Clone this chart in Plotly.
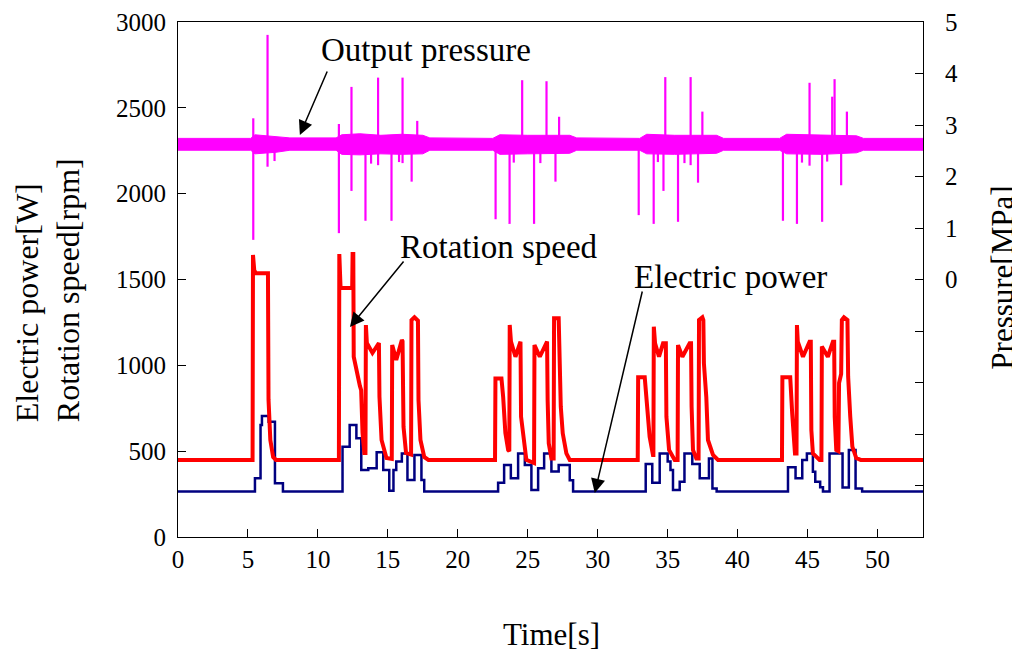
import plotly.graph_objects as go

# ---------------- data ----------------
# Rotation speed [rpm]
speed_t = [0, 5.33, 5.36, 5.45, 5.55, 6.43, 6.47, 6.6, 6.8, 7.0,
           11.50, 11.53, 11.62, 12.45, 12.48, 12.53, 12.56, 12.78, 13.0, 13.09, 13.19, 13.32, 13.40,
           13.43, 13.5, 13.9, 14.3, 14.36, 14.40, 14.55, 14.9, 15.28,
           15.31, 15.6, 16.0, 16.05, 16.08, 16.12, 16.3, 16.66,
           16.69, 16.9, 17.15, 17.19, 17.33, 17.6, 17.9,
           22.66, 22.69, 23.12, 23.24, 23.4, 23.6, 23.68,
           23.71, 23.8, 24.12, 24.43, 24.48, 24.52, 24.74, 24.9, 25.45,
           25.48, 25.86, 26.33, 26.38, 26.42, 26.5, 26.69, 26.85,
           26.88, 27.21, 27.36, 27.5, 27.76, 28.0,
           32.86, 32.89, 33.36, 33.52, 33.71, 33.95, 33.98,
           34.01, 34.1, 34.38, 34.67, 34.87, 34.91, 35.1, 35.5, 35.71,
           35.74, 36.05, 36.57, 36.67, 36.71, 36.81, 37.05, 37.21,
           37.24, 37.48, 37.55, 37.59, 37.76, 37.88, 38.24, 38.6,
           43.17, 43.20, 43.76, 43.9, 44.0, 44.1, 44.21,
           44.24, 44.3, 44.67, 45.14, 45.23, 45.27, 45.38, 45.86, 45.99,
           46.02, 46.45, 46.81, 46.90, 46.94, 47.05, 47.2,
           47.25, 47.4, 47.45, 47.6, 47.85, 47.9, 48.05, 48.2, 48.48, 48.8, 53.3]
speed_v = [449, 449, 1643, 1555, 1537, 1537, 800, 565, 466, 449,
           449, 1648, 1450, 1450, 1648, 1648, 1050, 955, 880, 856, 606, 489, 489,
           1235, 1130, 1072, 1130, 1130, 817, 565, 460, 455,
           1118, 1031, 1147, 1140, 915, 641, 489, 480,
           1264, 1280, 1260, 798, 565, 466, 449,
           449, 924, 924, 817, 606, 507, 500,
           1235, 1138, 1050, 1138, 1138, 701, 526, 449, 431,
           1118, 1050, 1138, 1138, 798, 546, 458, 458,
           1274, 1274, 759, 604, 487, 449,
           449, 930, 930, 798, 584, 478, 478,
           1225, 1128, 1050, 1128, 1128, 701, 507, 449, 449,
           1118, 1050, 1128, 1128, 759, 507, 458, 458,
           1264, 1280, 1264, 1012, 817, 565, 478, 449,
           449, 930, 930, 720, 584, 487, 487,
           1235, 1138, 1050, 1138, 1138, 623, 487, 449, 449,
           1109, 1050, 1138, 1138, 701, 507, 500,
           897, 950, 1264, 1280, 1264, 934, 701, 526, 460, 449, 449]

# Electric power [W] (step signal: value holds from each time onward)
power_t = [0, 5.5, 5.9, 6.0, 6.48, 6.93, 7.5,
           11.76, 12.27, 12.75, 13.1, 13.6, 14.2, 14.67, 15.1, 15.4, 15.6, 16.0, 16.4, 16.9, 17.4, 17.6,
           22.88, 23.31, 23.79, 24.31, 24.79, 25.26, 25.74, 26.17, 26.69, 27.21, 28.0, 28.24,
           33.43, 33.9, 34.43, 35.0, 35.2, 35.38, 35.86, 36.2, 36.76, 37.29, 37.95, 38.2, 38.5,
           43.6, 44.14, 44.62, 44.95, 45.38, 45.55, 45.9, 46.1, 46.57, 47.5, 47.95, 48.43, 48.9, 53.3]
power_v = [265, 342, 652, 705, 672, 313, 265,
           526, 652, 575, 390, 400, 493, 390, 270, 390, 440, 487, 332, 478, 332, 265,
           316, 419, 342, 487, 419, 274, 400, 487, 381, 419, 330, 265,
           425, 316, 487, 440, 390, 274, 322, 487, 425, 342, 458, 283, 265,
           406, 342, 449, 487, 380, 322, 290, 265, 487, 289, 507, 283, 265, 265]

# Output pressure [MPa]: noise band envelope
pres_t = [0, 5.2, 5.5, 7.0, 8.0, 11.3, 11.7, 13.0, 14.5, 16.0, 17.5, 18.0, 22.5, 23.0, 25.0,
          28.0, 28.5, 33.0, 33.5, 35.5, 38.5, 39.0, 43.0, 43.5, 46.0, 48.5, 49.0, 53.3]
pres_hi = [2.74, 2.74, 2.81, 2.78, 2.75, 2.75, 2.81, 2.83, 2.80, 2.82, 2.80, 2.75, 2.74, 2.81, 2.80,
           2.80, 2.75, 2.74, 2.82, 2.80, 2.80, 2.74, 2.74, 2.82, 2.80, 2.79, 2.74, 2.74]
pres_lo = [2.51, 2.51, 2.44, 2.47, 2.51, 2.51, 2.43, 2.42, 2.44, 2.43, 2.44, 2.51, 2.51, 2.43, 2.44,
           2.45, 2.51, 2.51, 2.44, 2.43, 2.45, 2.51, 2.51, 2.44, 2.43, 2.46, 2.51, 2.51]
pres_base = 2.62
# Output pressure spikes (time, extreme value)
spike_t = [5.38, 5.38, 6.40, 6.40, 11.50, 11.50, 12.40, 12.40, 13.40, 14.30, 14.30, 15.26,
           16.05, 16.05, 16.70, 17.10, 22.70, 23.70, 24.60, 25.45, 26.34, 26.98, 27.24,
           32.93, 34.00, 34.70, 34.83, 35.74, 36.64, 36.64, 37.17, 37.48,
           43.24, 44.24, 45.14, 45.14, 46.04, 46.76, 46.93, 47.40, 47.81,
           6.9, 13.8, 15.8, 24.0, 25.9, 34.3, 36.2, 44.6, 46.4]
spike_p = [3.13, 0.77, 4.75, 2.19, 3.02, 0.90, 3.74, 1.72, 1.14, 3.92, 2.22, 1.14,
           3.92, 2.26, 1.90, 3.08, 1.17, 1.08, 3.87, 1.08, 3.85, 1.90, 3.16,
           1.25, 1.08, 1.72, 3.93, 1.12, 3.93, 2.22, 1.88, 3.26,
           1.14, 1.08, 3.82, 2.21, 1.12, 3.55, 3.89, 1.83, 3.26,
           2.30, 2.25, 2.28, 2.27, 2.26, 2.28, 2.26, 2.27, 2.29]

x_ticks = [0, 5, 10, 15, 20, 25, 30, 35, 40, 45, 50]
left_ticks = [0, 500, 1000, 1500, 2000, 2500, 3000]
right_tickvals = [-4, -3, -2, -1, 0, 1, 2, 3, 4, 5]
right_ticktext = ["", "", "", "", "0", "1", "2", "3", "4", "5"]

# ---------------- figure ----------------
FONT = "Liberation Serif, Times New Roman, serif"
MAGENTA = "#FF00FF"
RED = "#FF0000"
NAVY = "#000080"

fig = go.Figure()

# spikes as vertical segments from the base level
sx, sy = [], []
for t, p in zip(spike_t, spike_p):
    sx += [t, t, None]
    sy += [pres_base, p, None]

fig.add_trace(go.Scatter(x=pres_t, y=pres_hi, yaxis="y2", mode="lines",
                         line=dict(color=MAGENTA, width=1), showlegend=False, hoverinfo="skip"))
fig.add_trace(go.Scatter(x=pres_t, y=pres_lo, yaxis="y2", mode="lines", fill="tonexty",
                         fillcolor=MAGENTA, line=dict(color=MAGENTA, width=1),
                         showlegend=False, hoverinfo="skip"))
fig.add_trace(go.Scatter(x=sx, y=sy, yaxis="y2", mode="lines",
                         line=dict(color=MAGENTA, width=2.2), showlegend=False))

fig.add_trace(go.Scatter(x=power_t, y=power_v, mode="lines", line_shape="hv",
                         line=dict(color=NAVY, width=2.5), showlegend=False))
fig.add_trace(go.Scatter(x=speed_t, y=speed_v, mode="lines",
                         line=dict(color=RED, width=4), showlegend=False))

axis_common = dict(showline=True, linecolor="black", linewidth=1.2, ticks="inside",
                   ticklen=8, tickcolor="black", tickwidth=1, showgrid=False, zeroline=False,
                   automargin=False,
                   tickfont=dict(family=FONT, size=25, color="black"))

fig.update_layout(
    width=1012, height=653,
    margin=dict(l=170, r=97, t=14, b=124, autoexpand=False),
    paper_bgcolor="white", plot_bgcolor="white",
    xaxis=dict(range=[0, 53.25], tickvals=x_ticks, mirror=True, **axis_common),
    yaxis=dict(range=[0, 3000], tickvals=left_ticks, ticklabelstandoff=6, **axis_common),
    yaxis2=dict(range=[-5, 5], tickvals=right_tickvals, ticktext=right_ticktext,
                overlaying="y", side="right", anchor="x", ticklabelstandoff=16, **axis_common),
)

ann_font = dict(family=FONT, size=33, color="black")
title_font = dict(family=FONT, size=31, color="black")
left_title_font = dict(family=FONT, size=32, color="black")

# axis titles
fig.add_annotation(text="Time[s]", xref="paper", yref="paper", x=0.5007, y=-0.19,
                   xanchor="center", yanchor="middle", showarrow=False, font=title_font)
fig.add_annotation(text="Electric power[W]<br>Rotation speed[rpm]", xref="paper", yref="paper",
                   x=-0.1745, y=0.219, xanchor="center", yanchor="bottom", align="left",
                   textangle=-90, showarrow=False, font=left_title_font)
fig.add_annotation(text="Pressure[MPa]", xref="paper", yref="paper", x=1.107, y=0.503,
                   xanchor="center", yanchor="middle", textangle=-90, showarrow=False,
                   font=title_font)

# labels
fig.add_annotation(text="Output pressure", x=17.71, y=2835, xref="x", yref="y",
                   showarrow=False, font=ann_font)
fig.add_annotation(text="Rotation speed", x=22.93, y=1690, xref="x", yref="y",
                   showarrow=False, font=ann_font)
fig.add_annotation(text="Electric power", x=39.5, y=1515, xref="x", yref="y",
                   showarrow=False, font=ann_font)

# arrows (tip at x,y; tail at ax,ay)
arrows = [((8.71, 2342), (10.71, 2720)),
          ((12.29, 1223), (16.21, 1614)),
          ((29.79, 256), (33.21, 1439))]
for (tx, ty), (ax_, ay_) in arrows:
    fig.add_annotation(x=tx, y=ty, ax=ax_, ay=ay_, xref="x", yref="y", axref="x", ayref="y",
                       text="", showarrow=True, arrowhead=2, arrowsize=1.9, arrowwidth=1.5,
                       arrowcolor="black")

fig.write_html("out.html")
